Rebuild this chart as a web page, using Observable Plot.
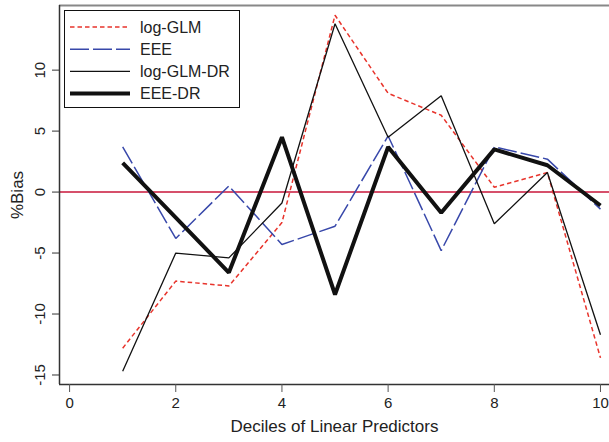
<!DOCTYPE html>
<html>
<head>
<meta charset="utf-8">
<script src="https://cdn.jsdelivr.net/npm/d3@7"></script>
<script src="https://cdn.jsdelivr.net/npm/@observablehq/plot@0.6"></script>
<style>
  html, body { margin: 0; padding: 0; background: #fff; }
  svg { font-family: "Liberation Sans", Arial, Helvetica, sans-serif; }
</style>
</head>
<body>
<div id="chart"></div>
<script>
const deciles = [1, 2, 3, 4, 5, 6, 7, 8, 9, 10];
const logGLM   = [-12.8, -7.3, -7.7, -2.5, 14.5, 8.1, 6.3, 0.4, 1.6, -13.6];
const eee      = [3.7, -3.8, 0.5, -4.3, -2.8, 4.6, -4.8, 3.7, 2.7, -1.4];
const logGLMDR = [-14.7, -5.0, -5.4, -0.9, 13.8, 4.5, 7.9, -2.6, 1.6, -11.7];
const eeeDR    = [2.4, -2.1, -6.6, 4.5, -8.4, 3.7, -1.7, 3.5, 2.2, -1.1];

const seriesNames = ["log-GLM", "EEE", "log-GLM-DR", "EEE-DR"];
const seriesValues = [logGLM, eee, logGLMDR, eeeDR];
const seriesColors = ["#e8342c", "#3848aa", "#111111", "#111111"];
const seriesWidths = [1.5, 1.5, 1.3, 4];
const seriesDash = ["4.5,3", "19,4", null, null];

const xTicks = [0, 2, 4, 6, 8, 10];
const yTicks = [-15, -10, -5, 0, 5, 10];

const rows = [];
seriesNames.forEach((s, i) => deciles.forEach((d, j) => rows.push({series: s, decile: d, bias: seriesValues[i][j]})));

const xDomain = [-0.19, 10.17];
const yDomain = [-15.78, 15.3];

const lineMarks = seriesNames.map((s, i) => Plot.line(rows.filter(r => r.series === s), {
  x: "decile", y: "bias",
  stroke: seriesColors[i], strokeWidth: seriesWidths[i],
  strokeDasharray: seriesDash[i] ?? undefined,
  strokeLinejoin: "miter", strokeLinecap: "butt"
}));

const chart = Plot.plot({
  width: 609, height: 442,
  marginLeft: 59, marginRight: 0, marginTop: 5, marginBottom: 58,
  style: {fontFamily: '"Liberation Sans", Arial, Helvetica, sans-serif', background: "#fff"},
  x: {domain: xDomain, axis: null},
  y: {domain: yDomain, axis: null},
  marks: [
    Plot.ruleY([0], {stroke: "#c8163a", strokeWidth: 1.5}),
    ...lineMarks,
    Plot.ruleY([yDomain[1]], {stroke: "#888", strokeWidth: 2}),
    Plot.ruleX([xDomain[0]], {stroke: "#333", strokeWidth: 1.5}),
    Plot.ruleY([yDomain[0]], {stroke: "#333", strokeWidth: 1.5}),
    Plot.axisX({ticks: xTicks, tickSize: 8, tickFormat: () => "", stroke: "#555", label: null}),
    Plot.axisY({ticks: yTicks, tickSize: 7, tickFormat: () => "", stroke: "#333", label: null}),
    Plot.text(xTicks, {x: d => d, frameAnchor: "bottom", dy: 18.5, text: d => String(d),
      fontSize: 15, lineAnchor: "middle", fill: "#222"}),
    Plot.text(yTicks, {y: d => d, frameAnchor: "left", dx: -19, rotate: -90, text: d => String(d),
      fontSize: 15, lineAnchor: "middle", textAnchor: "middle", fill: "#222"}),
    Plot.text(["Deciles of Linear Predictors"], {frameAnchor: "bottom", dy: 42, text: d => d,
      fontSize: 17, lineAnchor: "middle", fill: "#222"}),
    Plot.text(["%Bias"], {frameAnchor: "left", dx: -42, rotate: -90, text: d => d,
      fontSize: 17, lineAnchor: "middle", textAnchor: "middle", fill: "#222"})
  ]
});

document.getElementById("chart").appendChild(chart);

// Legend inside the plot
const svg = d3.select(chart);
const lg = svg.append("g").attr("transform", "translate(64.5,10.5)").attr("text-anchor", "start");
lg.append("rect").attr("width", 175).attr("height", 97).attr("fill", "#fff").attr("stroke", "#111").attr("stroke-width", 1);
seriesNames.forEach((s, i) => {
  const y = 16.5 + i * 22.2;
  lg.append("line").attr("x1", 5.5).attr("x2", 65.5).attr("y1", y).attr("y2", y)
    .attr("stroke", seriesColors[i]).attr("stroke-width", seriesWidths[i])
    .attr("stroke-dasharray", seriesDash[i] || null);
  lg.append("text").attr("x", 75.5).attr("y", y).attr("dy", "0.35em")
    .attr("text-anchor", "start")
    .attr("font-size", 16).attr("fill", "#222").text(s);
});
</script>
</body>
</html>
